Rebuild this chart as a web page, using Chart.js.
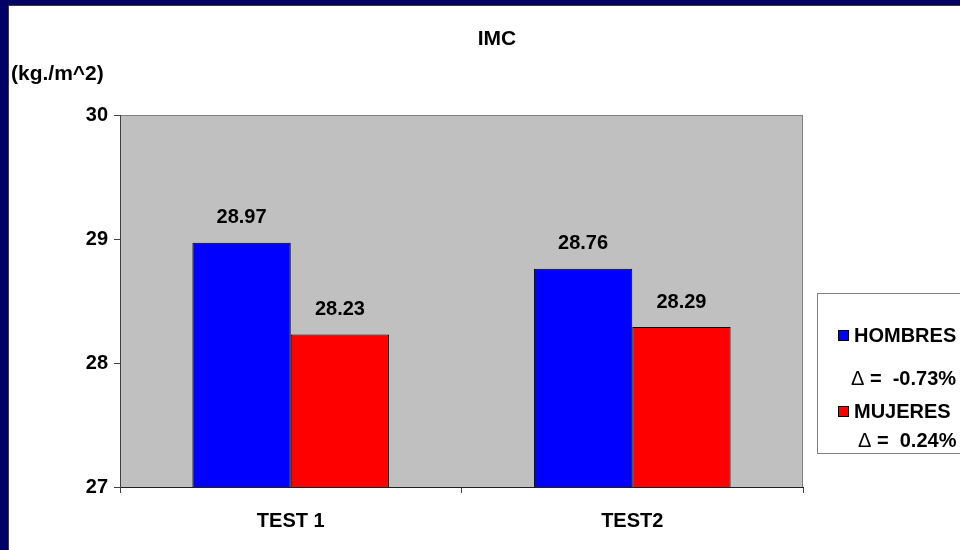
<!DOCTYPE html>
<html><head><meta charset="utf-8">
<script src="https://cdn.jsdelivr.net/npm/chart.js@4/dist/chart.umd.min.js"></script>
<style>html,body{margin:0;padding:0;background:#fff;overflow:hidden}#wrap{position:relative;width:960px;height:550px}</style>
</head><body><div id="wrap"><canvas id="c" width="960" height="550"></canvas></div>
<script>
const categories = ['TEST 1', 'TEST2'];
const seriesNames = ['HOMBRES', 'MUJERES'];
const hombres = [28.97, 28.76];
const mujeres = [28.23, 28.29];
const deltaValues = ['-0.73%', '0.24%'];
const seriesColors = ['#0000FF', '#FF0000'];
const yMin = 27, yMax = 30, yStep = 1;
const chartTitle = 'IMC';
const yTitle = '(kg./m^2)';

const FONT = "'Liberation Sans', Arial, sans-serif";

const decor = {
  id: 'decor',
  beforeDraw(chart) {
    const ctx = chart.ctx, a = chart.chartArea;
    ctx.save();
    ctx.fillStyle = '#000066';
    ctx.fillRect(0, 0, 960, 550);
    ctx.fillStyle = '#3c3c3c';
    ctx.fillRect(8, 5, 952, 545);
    ctx.fillStyle = '#ffffff';
    ctx.fillRect(9, 6, 951, 544);
    // plot area
    ctx.fillStyle = '#C0C0C0';
    ctx.fillRect(a.left, a.top, a.right - a.left, a.bottom - a.top);
    ctx.strokeStyle = '#808080';
    ctx.lineWidth = 1;
    ctx.strokeRect(a.left + 0.5, a.top + 0.5, a.right - a.left - 1, a.bottom - a.top);
    // titles
    ctx.fillStyle = '#000';
    ctx.textAlign = 'center';
    ctx.textBaseline = 'middle';
    ctx.font = 'bold 21px ' + FONT;
    ctx.fillText(chartTitle, 497, 39);
    ctx.textAlign = 'left';
    ctx.font = 'bold 21px ' + FONT;
    ctx.fillText(yTitle, 11, 74);
    ctx.restore();
  },
  afterDatasetsDraw(chart) {
    const ctx = chart.ctx;
    ctx.save();
    ctx.fillStyle = '#000';
    ctx.font = 'bold 20px ' + FONT;
    ctx.textAlign = 'center';
    ctx.textBaseline = 'middle';
    chart.data.datasets.forEach((ds, i) => {
      chart.getDatasetMeta(i).data.forEach((bar, j) => {
        ctx.fillText(ds.data[j].toFixed(2), bar.x, bar.y - 25);
      });
    });
    // legend
    ctx.fillStyle = '#fff';
    ctx.fillRect(817, 293, 150, 160);
    ctx.strokeStyle = '#808080';
    ctx.lineWidth = 1;
    ctx.strokeRect(817.5, 293.5, 150, 160);
    const rows = [[335, 378, 851], [411, 440, 858]];
    seriesNames.forEach((name, i) => {
      const [ny, dy, dx] = rows[i];
      ctx.fillStyle = seriesColors[i];
      ctx.fillRect(838, ny - 5, 11, 11);
      ctx.strokeStyle = '#000';
      ctx.strokeRect(838.5, ny - 4.5, 10, 10);
      ctx.fillStyle = '#000';
      ctx.textAlign = 'left';
      ctx.textBaseline = 'middle';
      ctx.font = 'bold 20px ' + FONT;
      ctx.fillText(name, 854, ny + 1);
      ctx.font = '20px ' + FONT;
      ctx.fillText('\u0394', dx, dy + 1);
      const w = ctx.measureText('\u0394').width;
      ctx.font = 'bold 20px ' + FONT;
      ctx.fillText(' =  ' + deltaValues[i], dx + w, dy + 1);
    });
    ctx.restore();
  }
};

new Chart(document.getElementById('c'), {
  type: 'bar',
  data: {
    labels: categories,
    datasets: [
      { label: seriesNames[0], data: hombres, backgroundColor: seriesColors[0], borderColor: '#000', borderWidth: 1, borderSkipped: false },
      { label: seriesNames[1], data: mujeres, backgroundColor: seriesColors[1], borderColor: '#000', borderWidth: 1, borderSkipped: false }
    ]
  },
  options: {
    responsive: false,
    animation: false,
    devicePixelRatio: 1,
    layout: { padding: { top: 115, right: 157, bottom: 0, left: 0 } },
    datasets: { bar: { categoryPercentage: 0.576, barPercentage: 1.0 } },
    plugins: { legend: { display: false }, title: { display: false }, tooltip: { enabled: false } },
    scales: {
      x: {
        afterFit(s) { s.height = 63; },
        grid: { offset: true, drawOnChartArea: false, drawTicks: true, tickLength: 6, color: '#404040' },
        border: { display: true, color: '#202020', width: 1 },
        ticks: { font: { family: FONT, size: 20, weight: 'bold' }, color: '#000', padding: 16 }
      },
      y: {
        min: yMin, max: yMax,
        afterFit(s) { s.width = 120; },
        grid: { drawOnChartArea: false, drawTicks: true, tickLength: 6, color: '#404040' },
        border: { display: true, color: '#404040', width: 1 },
        ticks: { stepSize: yStep, font: { family: FONT, size: 20, weight: 'bold' }, color: '#000', padding: 6 }
      }
    }
  },
  plugins: [decor]
});
</script>
</body></html>
